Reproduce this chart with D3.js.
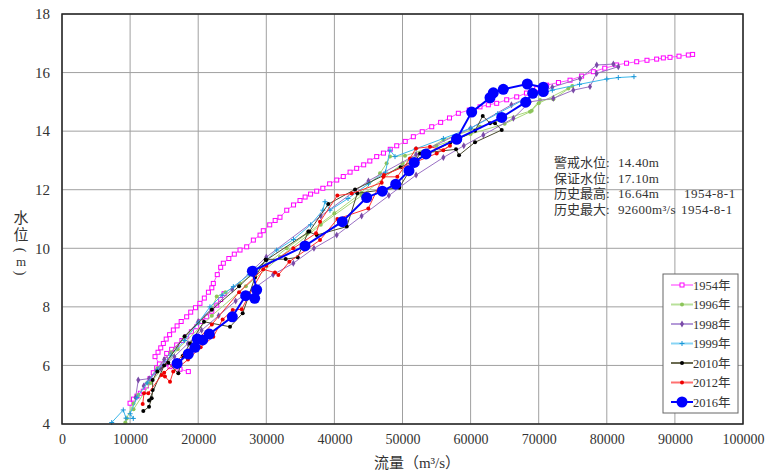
<!DOCTYPE html>
<html>
<head>
<meta charset="utf-8">
<script src="https://d3js.org/d3.v7.min.js"></script>
<style>
body { margin: 0; background: #fff; }
svg { display: block; }
text { font-family: 'Liberation Serif', 'Noto Sans CJK SC', serif; fill: #333; }
</style>
</head>
<body>
<div id="chart"></div>
<script>
// flow (m3/s), stage (m); null breaks the line
var s1954 = [[9990,4.71],[10500,4.85],[11000,4.95],[11500,5.05],[11940,5.12],[12400,5.3],[12920,5.55],[13400,5.75],
  [13900,5.92],[14300,6.05],[13660,6.3],[14100,6.45],[14500,6.6],[14880,6.75],[15300,6.9],[15800,7.05],[16350,7.21],
  [16900,7.35],[17500,7.5],[18310,7.66],[18900,7.82],[19600,7.97],[20260,8.12],[20900,8.3],[21500,8.5],[22000,8.65],
  [22220,8.8],[22800,9.1],[23300,9.35],[23690,9.49],[24500,9.65],[25300,9.8],[26140,9.94],[27120,10.05],[28100,10.28],
  [29080,10.45],[29560,10.6],[30500,10.8],[31300,10.95],[32010,11.06],[33000,11.3],[34000,11.48],[34950,11.63],
  [35700,11.75],[36500,11.85],[37400,11.95],[38300,12.05],[39300,12.2],[40340,12.33],[41300,12.45],[42300,12.6],
  [43270,12.73],[44300,12.85],[45200,12.98],[46210,13.13],[47200,13.25],[48200,13.38],[49150,13.5],[50400,13.65],
  [51590,13.81],[52900,13.98],[54290,14.15],[55600,14.3],[56900,14.45],[58200,14.61],[59800,14.72],[61380,14.83],
  [62600,14.9],[63830,14.95],[65300,15.07],[66770,15.17],[68200,15.3],[69700,15.45],[71170,15.57],[72900,15.66],
  [74600,15.74],[76300,15.88],[78020,16.03],[79700,16.15],[81450,16.26],[82900,16.32],[84390,16.37],[85900,16.42],
  [87320,16.46],[88300,16.5],[89280,16.52],[90600,16.56],[91970,16.6],[92600,16.62],
  null,
  [18550,5.79],[17330,5.87],[15860,5.96],[15120,6.05],[15200,6.2],[15370,6.41],[16100,6.55],[16840,6.7],[17600,6.85],
  [18310,6.98],[19000,7.15],[19780,7.32],[20500,7.5],[21250,7.66],[22000,7.85],[22720,8.06],[23300,8.25],[23800,8.45]];

var s1996 = [[9300,4.05],[9500,4.19],[10500,4.7],[11200,4.99],[12500,5.4],[14000,5.9],[16000,6.45],[18000,6.95],
  [20000,7.45],[22000,7.95],[22720,8.35],[24000,8.5],[26140,8.8],[28000,9.1],[30000,9.45],[33000,10.0],[36000,10.5],
  [40000,11.2],[44000,11.9],[46700,12.56],[47670,12.9],[48160,13.13],[50370,13.16],[55000,13.5],[60000,13.9],
  [65000,14.25],[68720,14.66],[70190,15.06],[72150,15.09],[74940,15.54],[74350,15.46],[70000,14.95],[68970,14.7],
  [61380,14.15],[56000,13.7],[50000,12.9],[44000,11.8],[38000,10.8],[32000,9.7],[27000,8.7],[22000,7.7],
  [17000,6.55],[13000,5.4],[10500,4.5]];

var s1998 = [[10800,4.9],[11200,5.5],[12800,5.55],[14500,5.9],[16500,6.3],[18500,6.75],[20500,7.2],[23000,7.7],
  [25500,8.2],[28000,8.6],[31000,9.1],[33970,9.49],[37000,10.0],[40340,10.45],[44000,11.1],[48000,11.8],[52000,12.5],
  [56000,13.1],[59000,13.5],[61870,13.87],[66280,14.44],[68720,15.0],[72150,15.12],[75080,15.4],[77530,15.52],
  [78500,15.97],[81690,16.2],[80960,16.29],[78520,16.26],[76070,15.8],[72000,15.5],[66000,14.9],[60000,14.1],
  [52000,13.2],[45000,12.3],[38000,11.1],[30000,9.7],[25000,8.6],[20000,7.5],[15000,6.2],[12000,5.3]];

var s1999 = [[7300,4.05],[9000,4.48],[9400,4.2],[10470,4.19],[10000,4.35],[11000,4.9],[12500,5.4],[14000,5.85],
  [16000,6.35],[18000,6.85],[20000,7.45],[21730,8.0],[23500,8.4],[25160,8.69],[27500,9.1],[30060,9.6],[31530,9.94],
  [34000,10.3],[36500,10.8],[38300,11.3],[38620,11.59],[39350,11.3],[42000,11.7],[45000,12.2],[47500,12.6],
  [48160,13.35],[48900,13.13],[52000,13.4],[56000,13.75],[60000,14.1],[64000,14.6],[68000,15.1],[72000,15.4],
  [76000,15.6],[80000,15.78],[81690,15.83],[83990,15.86]];

var s2010 = [[11940,4.44],[12780,4.59],[13170,4.88],[13310,5.16],[13310,5.5],[14000,5.79],[15610,6.09],[17080,5.73],
  [17720,6.32],[18800,6.75],[20850,7.49],[24670,7.32],[26530,7.78],[28340,9.0],[29900,9.62],[32850,9.63],[34610,9.69],
  [36170,10.57],[37400,10.45],[41810,10.74],[43370,11.88],[49530,12.07],[52570,13.24],[57860,13.38],[58300,13.18],
  [60650,13.62],[64570,14.04],[63580,14.27],[62850,14.27],[61780,14.52],[60650,14.01],[57000,13.6],[49730,12.77],
  [43030,12.01],[39110,11.51],[36310,10.57],[30000,9.6],[26000,8.7],[22000,7.9],[18000,7.0],[15000,6.0],[12780,4.8]];

var s2012 = [[11850,4.68],[12040,5.05],[12670,5.05],[14640,5.67],[15120,5.62],[15860,5.44],[16340,5.79],[18500,6.2],
  [20360,6.62],[22220,6.98],[23590,7.57],[25070,7.89],[26390,7.92],[27210,8.29],[29560,9.28],[31280,9.17],[31770,9.09],
  [33380,9.54],[37890,10.28],[40430,11.0],[44980,11.36],[47180,12.44],[49240,12.44],[51100,13.07],[51980,13.41],
  [54040,13.47],[55990,13.35],[56970,13.5],[55020,13.24],[47280,12.5],[46940,12.24],[42550,11.87],[40430,11.8],
  [37890,10.91],[37300,10.51],[33970,10.0],[30000,9.4],[26000,8.5],[22000,7.4],[18000,6.4],[15000,5.75]];

var s2016 = [[16900,6.07],[18550,6.39],[19530,6.62],[19870,6.9],[20660,6.87],[21630,7.07],[25010,7.66],[26970,8.38],
  [28290,8.29],[28590,8.58],[27950,9.22],[35680,10.08],[41160,10.91],[44740,11.73],[47040,11.95],[49000,12.19],
  [50950,12.65],[51730,12.93],[53450,13.22],[57960,13.73],[60160,14.65],[62850,15.14],[63330,15.31],[64800,15.43],
  [68330,15.61],[70680,15.5],[70680,15.35],[69120,15.29],[68090,14.99],[64570,14.47],[57960,13.73]];

var years = ["1954年", "1996年", "1998年", "1999年", "2010年", "2012年", "2016年"];
var xTicks = [0, 10000, 20000, 30000, 40000, 50000, 60000, 70000, 80000, 90000, 100000];
var yTicks = [4, 6, 8, 10, 12, 14, 16, 18];
var notes = [["警戒水位:", "14.40m", ""], ["保证水位:", "17.10m", ""],
  ["历史最高:", "16.64m", "1954-8-1"], ["历史最大:", "92600m³/s", "1954-8-1"]];

var series = [
  {name: years[0], data: s1954, line: "#ff55ff", mark: "#ff00ff", lw: 1, shape: "square", lgLine: "#ff99ff"},
  {name: years[1], data: s1996, line: "#a8d878", mark: "#8cc45a", lw: 1, shape: "circle", lgLine: "#b8e09a"},
  {name: years[2], data: s1998, line: "#9a70c4", mark: "#7a4aa8", lw: 1, shape: "diamond", lgLine: "#b49ad8"},
  {name: years[3], data: s1999, line: "#3cb8ea", mark: "#1896d8", lw: 1, shape: "plus", lgLine: "#88d4f4"},
  {name: years[4], data: s2010, line: "#4a4a30", mark: "#000000", lw: 1, shape: "dot", lgLine: "#6a6a50"},
  {name: years[5], data: s2012, line: "#ff3030", mark: "#ee0000", lw: 1, shape: "dot", lgLine: "#ff7070"},
  {name: years[6], data: s2016, line: "#0000ff", mark: "#0000ff", lw: 2, shape: "big", lgLine: "#0000ff"}
];

var width = 769, height = 473;
var svg = d3.select("#chart").append("svg").attr("width", width).attr("height", height);

var x = d3.scaleLinear().domain([0, 100000]).range([62, 743]);
var y = d3.scaleLinear().domain([4, 18]).range([424, 14]);

// grid
svg.append("g").selectAll("line").data(xTicks).enter().append("line")
  .attr("x1", function(d) { return x(d); }).attr("x2", function(d) { return x(d); })
  .attr("y1", y(18)).attr("y2", y(4))
  .attr("stroke", "#a0a0a0").attr("stroke-width", 1);
svg.append("g").selectAll("line").data(yTicks).enter().append("line")
  .attr("x1", x(0)).attr("x2", x(100000))
  .attr("y1", function(d) { return y(d); }).attr("y2", function(d) { return y(d); })
  .attr("stroke", "#a0a0a0").attr("stroke-width", 1);

// axes
var xAxis = svg.append("g").attr("transform", "translate(0," + y(4) + ")")
  .call(d3.axisBottom(x).tickValues(xTicks).tickSize(0).tickPadding(10).tickFormat(d3.format("d")));
xAxis.select(".domain").remove();
xAxis.selectAll("text").attr("font-size", 14).attr("fill", "#333")
  .style("font-family", "'Liberation Serif', serif");

var yAxis = svg.append("g").attr("transform", "translate(" + x(0) + ",0)")
  .call(d3.axisLeft(y).tickValues(yTicks).tickSize(0).tickPadding(12));
yAxis.select(".domain").remove();
yAxis.selectAll("text").attr("font-size", 15).attr("fill", "#333")
  .style("font-family", "'Liberation Serif', serif");

// series
var line = d3.line()
  .defined(function(d) { return d !== null; })
  .x(function(d) { return x(d[0]); })
  .y(function(d) { return y(d[1]); });

function drawMarker(g, shape, color, cx, cy) {
  if (shape === "square") {
    g.append("rect").attr("x", cx - 2).attr("y", cy - 2).attr("width", 4).attr("height", 4)
      .attr("fill", "#fff").attr("stroke", color).attr("stroke-width", 1);
  } else if (shape === "circle") {
    g.append("circle").attr("cx", cx).attr("cy", cy).attr("r", 2).attr("fill", color);
  } else if (shape === "diamond") {
    g.append("path").attr("d", d3.symbol().type(d3.symbolDiamond).size(14)())
      .attr("transform", "translate(" + cx + "," + cy + ")").attr("fill", color);
  } else if (shape === "plus") {
    g.append("path").attr("d", "M" + (cx - 2.5) + "," + cy + "H" + (cx + 2.5) + "M" + cx + "," + (cy - 2.5) + "V" + (cy + 2.5))
      .attr("stroke", color).attr("stroke-width", 1);
  } else if (shape === "dot") {
    g.append("circle").attr("cx", cx).attr("cy", cy).attr("r", 2).attr("fill", color);
  } else {
    g.append("circle").attr("cx", cx).attr("cy", cy).attr("r", 5.5).attr("fill", color);
  }
}

series.forEach(function(s) {
  var g = svg.append("g");
  g.append("path").datum(s.data).attr("d", line)
    .attr("fill", "none").attr("stroke", s.line).attr("stroke-width", s.lw);
  s.data.forEach(function(d) {
    if (d) drawMarker(g, s.shape, s.mark, x(d[0]), y(d[1]));
  });
});

// frame
svg.append("rect").attr("x", x(0)).attr("y", y(18))
  .attr("width", x(100000) - x(0)).attr("height", y(4) - y(18))
  .attr("fill", "none").attr("stroke", "#222").attr("stroke-width", 1.5);

// axis titles
svg.append("text").attr("x", 417).attr("y", 468).attr("text-anchor", "middle")
  .attr("font-size", 15).text("流量（m³/s）");
// vertical y title: 水 位 ( m ) with the brackets turned
svg.append("text").attr("x", 21).attr("y", 223).attr("text-anchor", "middle").attr("font-size", 15).text("水");
svg.append("text").attr("x", 21).attr("y", 240).attr("text-anchor", "middle").attr("font-size", 15).text("位");
svg.append("text").attr("text-anchor", "middle").attr("font-size", 14)
  .attr("transform", "translate(16,250) rotate(90)").text("(");
svg.append("text").attr("x", 21).attr("y", 266).attr("text-anchor", "middle").attr("font-size", 13).text("m");
svg.append("text").attr("text-anchor", "middle").attr("font-size", 14)
  .attr("transform", "translate(16,273) rotate(90)").text(")");

// notes
notes.forEach(function(n, i) {
  var yy = 167 + i * 15.5;
  svg.append("text").attr("x", 554).attr("y", yy).attr("font-size", 13).text(n[0]);
  svg.append("text").attr("x", 618).attr("y", yy).attr("font-size", 13)
    .attr("letter-spacing", 0.3).text(n[1]);
  if (n[2]) svg.append("text").attr("x", i === 2 ? 684 : 681).attr("y", yy).attr("font-size", 13)
    .attr("letter-spacing", 0.5).text(n[2]);
});

// legend
var lg = svg.append("g");
lg.append("rect").attr("x", 663).attr("y", 274).attr("width", 75).attr("height", 139)
  .attr("fill", "#fff").attr("stroke", "#666").attr("stroke-width", 1);
series.forEach(function(s, i) {
  var ly = 285 + i * 19.5;
  lg.append("line").attr("x1", 671).attr("x2", 693).attr("y1", ly).attr("y2", ly)
    .attr("stroke", s.lgLine).attr("stroke-width", 2);
  drawMarker(lg, s.shape, s.mark, 682, ly);
  lg.append("text").attr("x", 693).attr("y", ly + 4.5).attr("font-size", 12.5).text(s.name);
});
</script>
</body>
</html>
